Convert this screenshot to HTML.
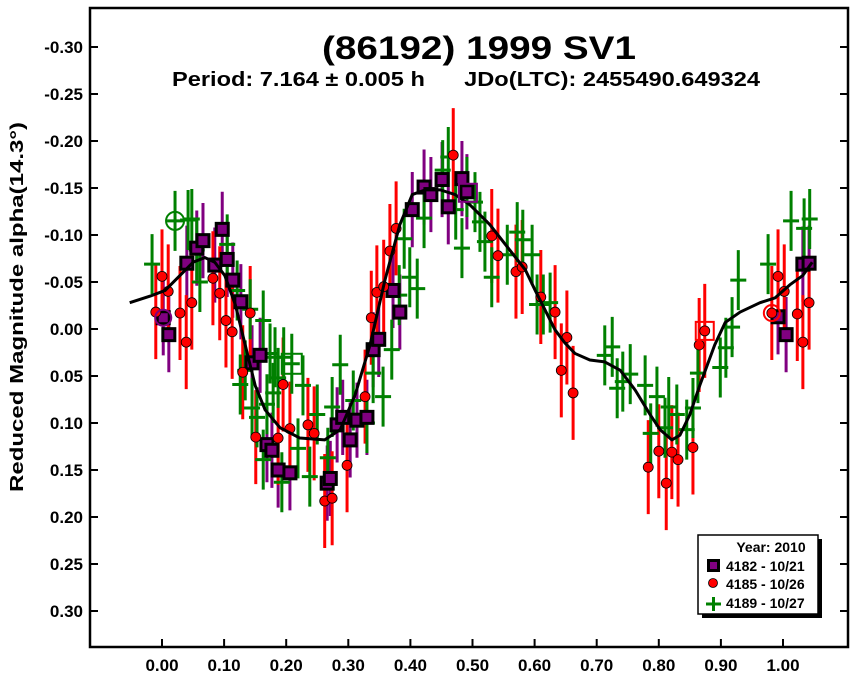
<!DOCTYPE html>
<html><head><meta charset="utf-8"><style>
body{margin:0;background:#fff;}
svg text{font-family:"Liberation Sans",Arial,sans-serif;font-weight:bold;fill:#000;}
</style></head><body>
<svg id="chart" width="866" height="677" viewBox="0 0 866 677" xmlns="http://www.w3.org/2000/svg">
<rect x="0" y="0" width="866" height="677" fill="#fff"/>
<g id="marks"></g>
<rect x="90" y="8" width="758" height="639" fill="none" stroke="#000" stroke-width="2.5"/>
<g id="axes"></g>
<text x="322" y="59" font-size="32" textLength="314" lengthAdjust="spacingAndGlyphs">(86192) 1999 SV1</text>
<text x="172" y="86" font-size="20" textLength="588" lengthAdjust="spacingAndGlyphs" xml:space="preserve">Period: 7.164 ± 0.005 h      JDo(LTC): 2455490.649324</text>
<text transform="translate(23,307) rotate(-90)" font-size="18" text-anchor="middle" textLength="370" lengthAdjust="spacingAndGlyphs">Reduced Magnitude alpha(14.3°)</text>
<g>
<rect x="702" y="539" width="120" height="79" fill="#000"/>
<rect x="698" y="535" width="120" height="79" fill="#fff" stroke="#000" stroke-width="1.5"/>
<text x="771" y="552" font-size="14" text-anchor="middle">Year: 2010</text>
<rect x="707" y="559" width="13" height="13" fill="#000"/><rect x="710" y="562" width="7" height="7" fill="#800080"/>
<text x="726" y="571" font-size="14">4182 - 10/21</text>
<circle cx="713" cy="583" r="4.5" fill="#f00" stroke="#000" stroke-width="0.8"/>
<text x="726" y="589" font-size="14">4185 - 10/26</text>
<path d="M706 604 H721 M713.5 597 V611" stroke="#008000" stroke-width="3"/>
<text x="726" y="608" font-size="14">4189 - 10/27</text>
</g>
</svg>
<script>
const xTicks=[0,0.1,0.2,0.3,0.4,0.5,0.6,0.7,0.8,0.9,1.0];
const xTickLabels=["0.00","0.10","0.20","0.30","0.40","0.50","0.60","0.70","0.80","0.90","1.00"];
const yTicks=[-0.30,-0.25,-0.20,-0.15,-0.10,-0.05,0,0.05,0.10,0.15,0.20,0.25,0.30];
const yTickLabels=["-0.30","-0.25","-0.20","-0.15","-0.10","-0.05","0.00","0.05","0.10","0.15","0.20","0.25","0.30"];
const s4182Phase=[0.002,0.011,0.040,0.056,0.066,0.097,0.105,0.085,0.114,0.127,0.145,0.158,0.169,0.177,0.187,0.206,0.266,0.271,0.282,0.291,0.303,0.314,0.330,0.340,0.349,0.372,0.383,0.403,0.422,0.433,0.451,0.461,0.483,0.491,0.992,1.005,1.032,1.042];
const s4182Mag=[-0.012,0.006,-0.070,-0.086,-0.094,-0.106,-0.074,-0.068,-0.052,-0.029,0.036,0.028,0.123,0.129,0.150,0.153,0.164,0.159,0.102,0.094,0.118,0.097,0.094,0.022,0.011,-0.041,-0.018,-0.127,-0.151,-0.143,-0.159,-0.130,-0.160,-0.146,-0.013,0.006,-0.069,-0.070];
const s4185Phase=[-0.010,0.000,0.010,0.029,0.039,0.048,0.082,0.093,0.103,0.113,0.130,0.142,0.151,0.187,0.195,0.206,0.235,0.245,0.262,0.274,0.298,0.327,0.337,0.346,0.357,0.367,0.377,0.469,0.531,0.541,0.570,0.580,0.610,0.633,0.643,0.652,0.662,0.783,0.800,0.812,0.821,0.831,0.855,0.865,0.874,0.982,0.992,1.002,1.023,1.032,1.042];
const s4185Mag=[-0.018,-0.056,-0.040,-0.017,0.014,-0.028,-0.054,-0.038,-0.009,0.003,0.046,-0.017,0.115,0.116,0.059,0.106,0.102,0.111,0.183,0.180,0.145,0.072,-0.012,-0.039,-0.045,-0.083,-0.107,-0.185,-0.099,-0.078,-0.061,-0.066,-0.034,-0.018,0.044,0.009,0.068,0.147,0.130,0.164,0.131,0.139,0.126,0.017,0.002,-0.017,-0.056,-0.040,-0.016,0.014,-0.028];
const s4189Phase=[-0.016,0.021,0.042,0.048,0.056,0.061,0.105,0.121,0.126,0.134,0.142,0.145,0.153,0.163,0.163,0.169,0.174,0.179,0.182,0.187,0.193,0.196,0.209,0.219,0.227,0.238,0.250,0.267,0.274,0.287,0.308,0.330,0.340,0.356,0.370,0.382,0.390,0.399,0.411,0.422,0.452,0.461,0.473,0.483,0.491,0.504,0.512,0.520,0.531,0.556,0.572,0.581,0.596,0.604,0.614,0.625,0.713,0.725,0.733,0.742,0.754,0.778,0.787,0.797,0.810,0.816,0.829,0.845,0.855,0.863,0.899,0.908,0.918,0.928,0.976,1.013,1.034,1.043];
const s4189Mag=[-0.069,-0.115,-0.116,-0.117,-0.084,-0.050,-0.090,-0.041,0.059,0.044,-0.021,0.084,0.094,-0.009,0.139,0.080,0.026,0.068,0.030,0.052,0.163,0.030,0.037,0.127,0.060,0.157,0.091,0.137,0.083,0.038,0.076,0.100,0.047,0.072,0.022,-0.036,-0.096,-0.055,-0.043,-0.118,-0.169,-0.183,-0.127,-0.086,-0.151,-0.135,-0.114,-0.093,-0.055,-0.079,-0.103,-0.095,-0.079,-0.026,-0.026,-0.028,0.028,0.019,0.063,0.056,0.048,0.060,0.111,0.072,0.105,0.083,0.091,0.107,0.084,0.047,0.041,0.020,-0.002,-0.052,-0.069,-0.115,-0.107,-0.117];
const fitPhase=[-0.052,-0.019,0.005,0.029,0.050,0.069,0.085,0.101,0.118,0.134,0.150,0.166,0.190,0.222,0.262,0.287,0.311,0.335,0.359,0.383,0.403,0.424,0.448,0.472,0.496,0.528,0.560,0.585,0.601,0.617,0.633,0.649,0.665,0.689,0.713,0.738,0.762,0.786,0.802,0.821,0.834,0.850,0.866,0.890,0.907,0.931,0.963,0.987,1.011,1.032,1.047];
const fitMag=[-0.028,-0.035,-0.041,-0.057,-0.071,-0.076,-0.071,-0.057,-0.026,0.017,0.060,0.086,0.105,0.116,0.118,0.107,0.070,0.017,-0.052,-0.111,-0.143,-0.148,-0.148,-0.143,-0.132,-0.111,-0.084,-0.063,-0.041,-0.020,0.001,0.015,0.026,0.033,0.035,0.044,0.065,0.091,0.107,0.118,0.113,0.091,0.060,0.017,-0.007,-0.018,-0.028,-0.033,-0.047,-0.057,-0.071];
const NS="http://www.w3.org/2000/svg";
const X=p=>162+p*621;
const Y=m=>329+m*940;
const marks=document.getElementById('marks'), axes=document.getElementById('axes');
function mk(tag,attrs,parent){const e=document.createElementNS(NS,tag);for(const k in attrs)e.setAttribute(k,attrs[k]);parent.appendChild(e);return e;}
xTicks.forEach((t,i)=>{
  const l=mk('line',{x1:X(t),x2:X(t),y1:647,y2:639,stroke:'#000','stroke-width':2},axes);
  
  
  const tx=mk('text',{x:X(t),y:671,'font-size':17,'text-anchor':'middle'},axes);tx.textContent=xTickLabels[i];
  
  
});
yTicks.forEach((t,i)=>{
  const l=mk('path',{d:`M90 ${Y(t)} H98 M848 ${Y(t)} H840`,stroke:'#000','stroke-width':2},axes);
  
  
  const tx=mk('text',{x:83,y:Y(t)+6,'font-size':17,'text-anchor':'end'},axes);tx.textContent=yTickLabels[i];
  
  
});
s4182Phase.forEach((p,i)=>{const e=mk('line',{x1:X(p),x2:X(p),y1:Y(s4182Mag[i]-0.04),y2:Y(s4182Mag[i]+0.04),stroke:'#800080','stroke-width':3},marks);
  
  });
s4185Phase.forEach((p,i)=>{const e=mk('line',{x1:X(p),x2:X(p),y1:Y(s4185Mag[i]-0.05),y2:Y(s4185Mag[i]+0.05),stroke:'#f00','stroke-width':3},marks);
  
  });
s4189Phase.forEach((p,i)=>{const x=X(p),y=Y(s4189Mag[i]);const e=mk('path',{d:`M${x} ${y-30} V${y+30} M${x-8} ${y} H${x+8}`,stroke:'#008000','stroke-width':3},marks);
  
  });
s4182Phase.forEach((p,i)=>{const x=X(p),y=Y(s4182Mag[i]);
  const g=mk('g',{},marks);
  
  
  mk('rect',{x:x-7.5,y:y-7.5,width:15,height:15,fill:'#000'},g);
  mk('rect',{x:x-4.5,y:y-4.5,width:9,height:9,fill:'#800080'},g);});
s4185Phase.forEach((p,i)=>{const c=mk('circle',{cx:X(p),cy:Y(s4185Mag[i]),r:5,fill:'#f00',stroke:'#000','stroke-width':0.8},marks);
  
  });
const fit=mk('polyline',{points:fitPhase.map((p,i)=>X(p)+','+Y(fitMag[i])).join(' '),fill:'none',stroke:'#000','stroke-width':3,'stroke-linejoin':'round'},marks);


const h1=mk('circle',{cx:X(s4189Phase[1]),cy:Y(s4189Mag[1]),r:9,fill:'none',stroke:'#008000','stroke-width':2},marks);


const h2=mk('circle',{cx:X(s4182Phase[0]),cy:Y(s4182Mag[0]),r:8,fill:'none',stroke:'#800080','stroke-width':2},marks);


const h3=mk('circle',{cx:X(s4185Phase[45]),cy:Y(s4185Mag[45]),r:8,fill:'none',stroke:'#f00','stroke-width':2},marks);


const h4=mk('rect',{x:X(s4189Phase[22])-10,y:Y(s4189Mag[22])-10,width:20,height:20,fill:'none',stroke:'#008000','stroke-width':2},marks);


const h5=mk('rect',{x:X(s4185Phase[44])-9,y:Y(s4185Mag[44])-9,width:18,height:18,fill:'none',stroke:'#f00','stroke-width':2},marks);


const h6=mk('rect',{x:X(s4182Phase[33])-8,y:Y(s4182Mag[33])-8,width:18,height:18,fill:'none',stroke:'#800080','stroke-width':2},marks);


</script>
</body></html>
